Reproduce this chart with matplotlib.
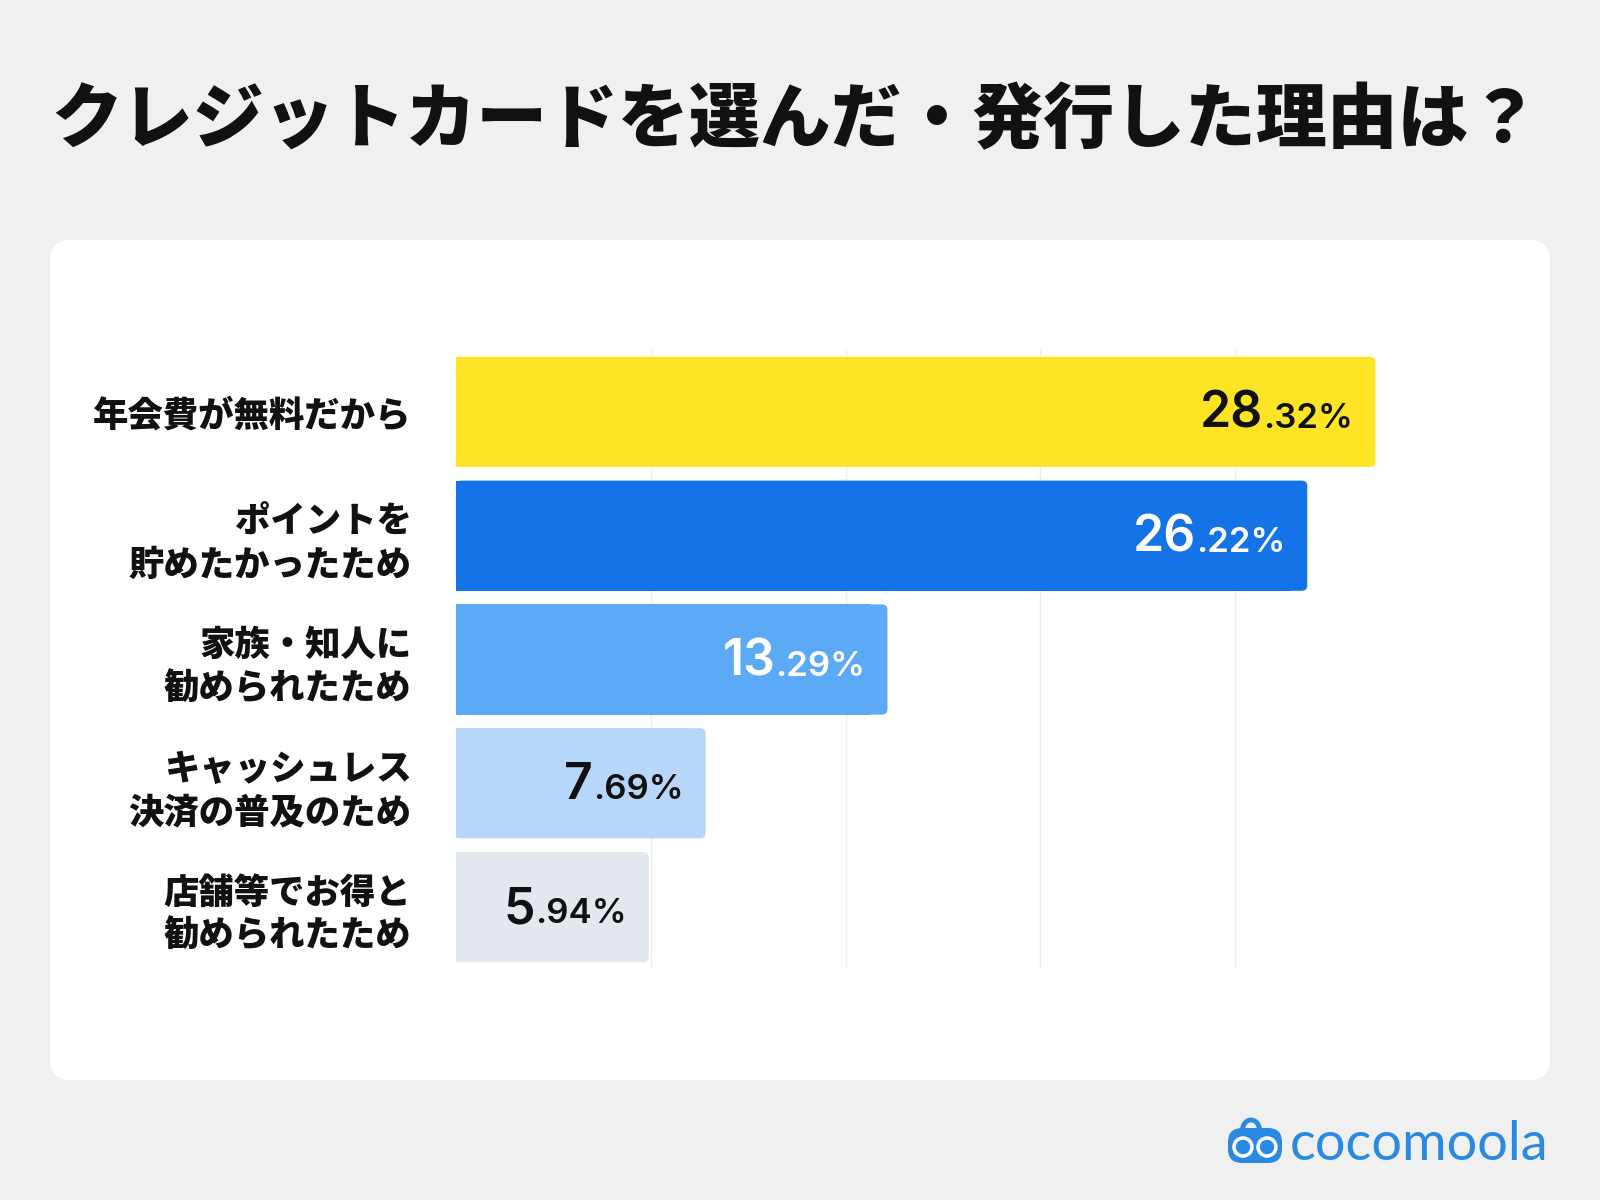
import matplotlib.pyplot as plt
from matplotlib.patches import FancyBboxPatch, Circle, Arc

# data
reasons = ['年会費が無料だから',
           'ポイントを\n貯めたかったため',
           '家族・知人に\n勧められたため',
           'キャッシュレス\n決済の普及のため',
           '店舗等でお得と\n勧められたため']
shares = [28.32, 26.22, 13.29, 7.69, 5.94]
bar_colors = ['#FFE325', '#1473E6', '#5CA9F5', '#B7D7FA', '#E3E7EE']
text_colors = ['#111111', '#FFFFFF', '#FFFFFF', '#111111', '#111111']
title = 'クレジットカードを選んだ・発行した理由は？'

jp = ['Noto Sans CJK JP', 'DejaVu Sans']
plt.rcParams['font.family'] = jp

fig = plt.figure(figsize=(16, 12), dpi=100)
fig.patch.set_facecolor('#F0F0F0')

# background layer in pixel coords
bg = fig.add_axes([0, 0, 1, 1])
bg.set_xlim(0, 1600)
bg.set_ylim(1200, 0)
bg.axis('off')
bg.add_patch(FancyBboxPatch((50, 240), 1500, 840, boxstyle='round,pad=0,rounding_size=20',
                            facecolor='white', edgecolor='none'))
bg.text(795, 122, title, fontsize=51, fontweight='black', ha='center', va='center',
        color='#111111')

# logo
logo_c = '#2A8AE2'
bg.add_patch(Arc((1251, 1130), 17, 20, theta1=180, theta2=360, color=logo_c, lw=3.5))
bg.add_patch(FancyBboxPatch((1228, 1128), 54, 35, boxstyle='round,pad=0,rounding_size=14',
                            facecolor=logo_c, edgecolor='none'))
bg.add_patch(Circle((1243, 1147), 9, facecolor='none', edgecolor='white', lw=2.5))
bg.add_patch(Circle((1267, 1147), 9, facecolor='none', edgecolor='white', lw=2.5))
bg.text(1290, 1145, 'cocomoola', fontsize=39, family='Lato', color=logo_c,
        ha='left', va='center')

# bar chart
ax = fig.add_axes([456/1600, 1 - 969/1200, 974/1600, 619/1200])
ax.set_xlim(0, 30)
ax.set_ylim(4.5, -0.5)
ax.set_facecolor('none')
for s in ax.spines.values():
    s.set_visible(False)
ax.set_xticks([6, 12, 18, 24, 30])
ax.tick_params(axis='x', length=0, labelbottom=False)
ax.grid(axis='x', color='#EDEDED', lw=1)
ax.set_axisbelow(True)

ux = 974 / 30
uy = 619 / 5
h = 0.89
for i, (v, c) in enumerate(zip(shares, bar_colors)):
    ax.add_patch(FancyBboxPatch((0, i - h/2), v, h,
                                boxstyle='round,pad=0,rounding_size=0.17',
                                mutation_aspect=ux/uy, facecolor=c, edgecolor='none', zorder=2))
    ax.barh(i, v - 0.5, height=h, color=c, zorder=2)

ax.set_yticks(range(len(reasons)))
ax.set_yticklabels(reasons, fontsize=25.5, fontweight='black', color='#111111', linespacing=1.25)
ax.tick_params(axis='y', length=0, pad=32)

# value labels: big integer part + small decimals
fig.canvas.draw()
r = fig.canvas.get_renderer()
for i, (v, tc) in enumerate(zip(shares, text_colors)):
    whole, dec = f'{v:.2f}'.split('.')
    t2 = ax.text(v - 0.68, i + 0.13, '.' + dec + '%', fontsize=25, family='Inter',
                 fontweight='semibold', color=tc, ha='right', va='baseline', zorder=3)
    bb = t2.get_window_extent(renderer=r)
    x_left = ax.transData.inverted().transform((bb.x0, 0))[0]
    ax.text(x_left, i + 0.13, whole, fontsize=36, family='Inter', fontweight='semibold',
            color=tc, ha='right', va='baseline', zorder=3)

fig.savefig('out.png', dpi=100, facecolor=fig.get_facecolor())
